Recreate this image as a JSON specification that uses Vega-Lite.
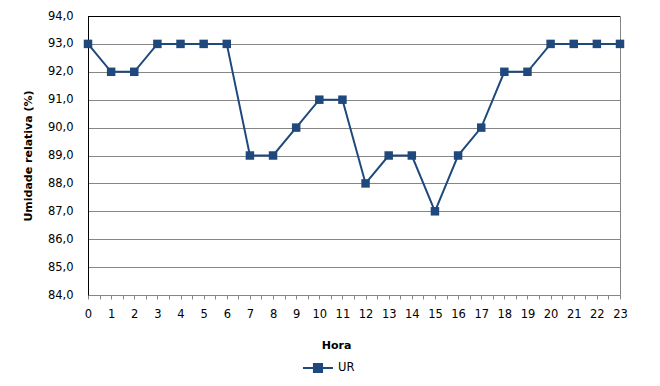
{
  "$schema": "https://vega.github.io/schema/vega-lite/v6.json",
  "width": 532,
  "height": 279,
  "autosize": {"type": "none"},
  "padding": {"left": 88, "top": 16, "right": 40, "bottom": 91},
  "background": "white",
  "config": {
    "font": "DejaVu Sans",
    "view": {"stroke": "#868686", "strokeWidth": 1}
  },
  "data": {
    "values": [
      {"hora": 0, "ur": 93, "serie": "UR"},
      {"hora": 1, "ur": 92, "serie": "UR"},
      {"hora": 2, "ur": 92, "serie": "UR"},
      {"hora": 3, "ur": 93, "serie": "UR"},
      {"hora": 4, "ur": 93, "serie": "UR"},
      {"hora": 5, "ur": 93, "serie": "UR"},
      {"hora": 6, "ur": 93, "serie": "UR"},
      {"hora": 7, "ur": 89, "serie": "UR"},
      {"hora": 8, "ur": 89, "serie": "UR"},
      {"hora": 9, "ur": 90, "serie": "UR"},
      {"hora": 10, "ur": 91, "serie": "UR"},
      {"hora": 11, "ur": 91, "serie": "UR"},
      {"hora": 12, "ur": 88, "serie": "UR"},
      {"hora": 13, "ur": 89, "serie": "UR"},
      {"hora": 14, "ur": 89, "serie": "UR"},
      {"hora": 15, "ur": 87, "serie": "UR"},
      {"hora": 16, "ur": 89, "serie": "UR"},
      {"hora": 17, "ur": 90, "serie": "UR"},
      {"hora": 18, "ur": 92, "serie": "UR"},
      {"hora": 19, "ur": 92, "serie": "UR"},
      {"hora": 20, "ur": 93, "serie": "UR"},
      {"hora": 21, "ur": 93, "serie": "UR"},
      {"hora": 22, "ur": 93, "serie": "UR"},
      {"hora": 23, "ur": 93, "serie": "UR"}
    ]
  },
  "layer": [
    {
      "mark": {
        "type": "line",
        "strokeWidth": 2,
        "point": {"shape": "square", "size": 72, "filled": true, "opacity": 1}
      },
      "encoding": {
        "x": {
          "field": "hora",
          "type": "quantitative",
          "scale": {"domain": [0, 23], "nice": false, "zero": false},
          "axis": {
            "title": "Hora",
            "titleFontSize": 11,
            "titleFontWeight": "bold",
            "titleColor": "#000000",
            "titlePadding": 20,
            "titleX": 248,
            "values": [0, 0.5, 1, 1.5, 2, 2.5, 3, 3.5, 4, 4.5, 5, 5.5, 6, 6.5, 7, 7.5, 8, 8.5, 9, 9.5, 10, 10.5, 11, 11.5, 12, 12.5, 13, 13.5, 14, 14.5, 15, 15.5, 16, 16.5, 17, 17.5, 18, 18.5, 19, 19.5, 20, 20.5, 21, 21.5, 22, 22.5, 23],
            "tickCount": 100,
            "labelExpr": "datum.value % 1 === 0 ? format(datum.value, 'd') : ''",
            "labelFontSize": 11.5,
            "labelColor": "#000000",
            "labelPadding": 9,
            "labelFlush": false,
            "labelOverlap": false,
            "tickSize": 4,
            "tickColor": "#868686",
            "domainColor": "#868686",
            "grid": false
          }
        },
        "y": {
          "field": "ur",
          "type": "quantitative",
          "scale": {"domain": [84, 94], "nice": false, "zero": false},
          "axis": {
            "title": "Umidade relativa (%)",
            "titleFontSize": 11,
            "titleFontWeight": "bold",
            "titleColor": "#000000",
            "titlePadding": 14,
            "values": [84, 85, 86, 87, 88, 89, 90, 91, 92, 93, 94],
            "tickCount": 20,
            "labelExpr": "replace(format(datum.value, '.1f'), '.', ',')",
            "labelFontSize": 11.5,
            "labelColor": "#000000",
            "labelPadding": 15,
            "labelOverlap": false,
            "ticks": false,
            "domainColor": "#000000",
            "grid": true,
            "gridColor": "#868686",
            "gridOpacity": 1
          }
        },
        "color": {
          "field": "serie",
          "type": "nominal",
          "scale": {"range": ["#1F497D"]},
          "legend": {
            "title": null,
            "orient": "none",
            "legendX": 214,
            "legendY": 336,
            "symbolType": "M-1,0H1M-0.27,-0.27H0.27V0.27H-0.27Z",
            "symbolSize": 900,
            "symbolStrokeWidth": 2,
            "symbolFillColor": "#1F497D",
            "symbolStrokeColor": "#1F497D",
            "labelFontSize": 11.5,
            "labelColor": "#000000",
            "labelOffset": 4
          }
        }
      }
    },
    {
      "mark": {"type": "rule", "color": "#000000", "strokeWidth": 1, "yOffset": 0.5},
      "encoding": {"y": {"datum": 94, "type": "quantitative"}}
    }
  ]
}
